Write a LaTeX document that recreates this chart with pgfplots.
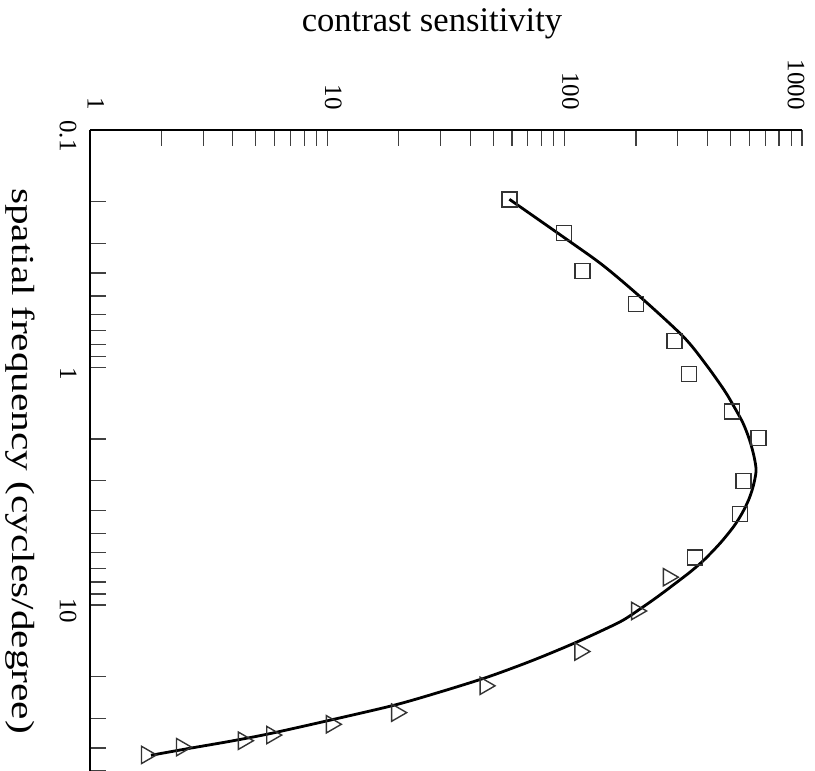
\documentclass[border=0pt]{standalone}
\usepackage{fontspec}
\setmainfont{Liberation Serif}
\usepackage{pgfplots}
\pgfplotsset{compat=1.18}
\begin{document}
\begin{tikzpicture}
\begin{axis}[
  scale only axis, width=356pt, height=320.5pt,
  xmode=log, ymode=log,
  xmin=1, xmax=1000, ymin=0.1, ymax=50,
  y dir=reverse,
  axis x line*=top, axis y line*=left,
  axis line style={line width=1pt, black},
  tick align=inside,
  major tick length=8pt, minor tick length=8pt,
  every tick/.style={line width=0.6pt, black!75},
  xtick={1,10,100,1000},
  xticklabels={1,10,100,{\raisebox{-6pt}[\height][\depth]{1000}}},
  minor xtick={2,3,4,5,6,7,8,9,20,30,40,50,60,70,80,90,200,300,400,500,600,700,800,900},
  ytick={0.1,1,10}, yticklabels={0.1,1,10},
  minor ytick={0.2,0.3,0.4,0.5,0.6,0.7,0.8,0.9,2,3,4,5,6,7,8,9,20,30,40,50},
  xticklabel style={xshift=3pt, rotate=-90, anchor=east, inner xsep=10pt, inner ysep=0pt, font=\fontsize{12.5}{14}\selectfont},
  yticklabel style={yshift=-3pt, rotate=-90, anchor=north, inner ysep=6.5pt, inner xsep=0pt, font=\fontsize{12.5}{14}\selectfont},
  clip=false,
]
\addplot[line width=1.4pt, black, smooth, no marks] coordinates {
(58.5,0.1958) (105.4,0.2954) (145.6,0.3727) (207.8,0.5034) (316.4,0.7420)
(390.6,0.9601) (469.7,1.2437) (517.5,1.4628) (564.8,1.718) (601.5,2.020)
(628.3,2.374) (640.6,2.728) (622.3,3.177) (595.7,3.614) (559.3,4.111)
(515.0,4.681) (451.8,5.499) (386.8,6.464) (339.4,7.240) (293.3,8.101)
(246.4,9.229) (214.6,10.17) (176.8,11.57) (142.4,12.87) (109.5,14.50)
(80.3,16.51) (62.1,18.24) (45.75,20.35) (29.86,23.25) (19.29,26.37)
(10.67,30.29) (5.831,34.69) (3.967,37.38) (2.638,40.12) (1.807,42.94)
};
\addplot[only marks, mark=square, mark size=3.75pt,
  mark options={fill=white, draw=black!80, line width=0.7pt}] coordinates {
(58.5,0.196) (99.4,0.272) (118.8,0.392) (199.3,0.540) (290,0.773)
(335,1.068) (506,1.535) (655,1.987) (566,3.0) (548,4.15) (354,6.32)
};
\addplot[only marks, mark=triangle, mark size=5pt,
  mark options={rotate=-90, fill=white, draw=black!80, line width=0.7pt}] coordinates {
(273.5,7.64) (201,10.6) (116,15.7) (46.2,21.9) (19.6,28.4)
(10.4,31.8) (5.83,35.3) (4.43,37.3) (2.43,39.7) (1.73,42.8)
};
\node[anchor=base, font=\fontsize{17.3}{20}\selectfont] at (rel axis cs:0.4803,1.1529) {contrast sensitivity};
\node[rotate=-90, xscale=1.29, font=\fontsize{16}{19}\selectfont] at (rel axis cs:-0.0983,0.4836) {spatial frequency (cycles/degree)};
\coordinate (bbA) at (rel axis cs:-0.1264,1.2028);
\coordinate (bbB) at (rel axis cs:1.0183,0);
\end{axis}
\pgfresetboundingbox
\path (bbA) rectangle (bbB);
\end{tikzpicture}
\end{document}
